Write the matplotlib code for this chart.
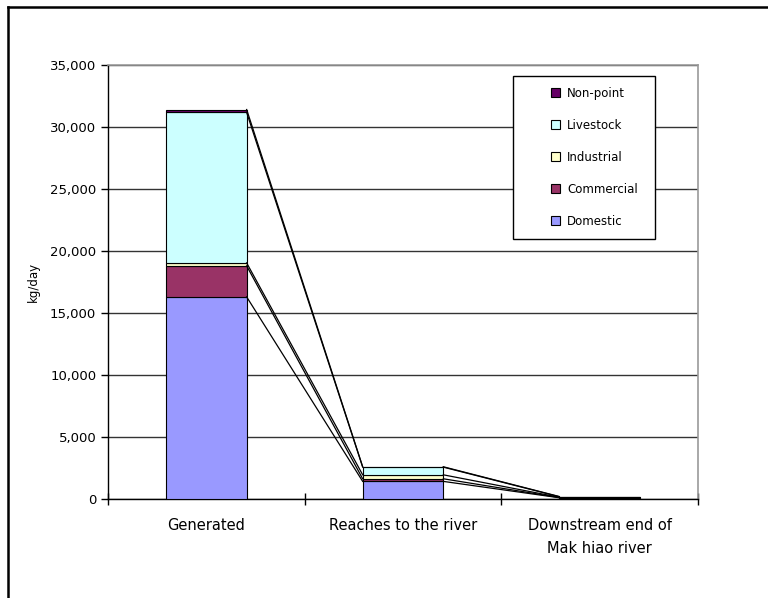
import matplotlib
matplotlib.use("Agg")
import matplotlib.pyplot as plt
from matplotlib.lines import Line2D
from matplotlib.patches import Patch, Rectangle
from matplotlib.ticker import FuncFormatter, MultipleLocator
import numpy as np

# Pollution load (kg/day) by source at each stage
stages = ["Generated", "Reaches to the river", "Downstream end of\nMak hiao river"]
sources = ["Domestic", "Commercial", "Industrial", "Livestock", "Non-point"]
domestic = [16300, 1420, 100]
commercial = [2500, 210, 20]
industrial = [240, 320, 20]
livestock = [12130, 620, 40]
nonpoint = [240, 30, 20]
colors = ["#9999FF", "#993366", "#FFFFCC", "#CCFFFF", "#660066"]

series = [domestic, commercial, industrial, livestock, nonpoint]

W, H = 768, 598
fig = plt.figure(figsize=(W / 100, H / 100), dpi=100)
ax = fig.add_axes([108 / W, 1 - 499 / H, 590 / W, 434 / H])

x = np.arange(len(stages))
width = 0.41
bottom = np.zeros(len(stages))
tops = []
for vals, col, name in zip(series, colors, sources):
    vals = np.asarray(vals, dtype=float)
    ax.bar(x, vals, width, bottom=bottom, color=col, edgecolor="black",
           linewidth=0.8, label=name, zorder=3)
    bottom = bottom + vals
    tops.append(bottom.copy())

# series lines joining the top of each segment between neighbouring bars
for top in tops:
    for j in range(len(stages) - 1):
        ax.plot([x[j] + width / 2, x[j + 1] - width / 2], [top[j], top[j + 1]],
                color="black", linewidth=0.9, zorder=4)

ax.set_xlim(-0.5, len(stages) - 0.5)
ax.set_ylim(0, 35000)
ax.yaxis.set_major_locator(MultipleLocator(5000))
ax.yaxis.set_major_formatter(FuncFormatter(lambda v, p: f"{int(v):,}"))
ax.grid(axis="y", color="#333333", linewidth=1.0, zorder=0)
ax.set_axisbelow(True)

ax.set_xticks(x)
ax.set_xticklabels(stages, fontsize=10.5, linespacing=1.6)
ax.tick_params(axis="x", length=0, pad=14)
# category boundary ticks
ax.set_xticks(np.arange(-0.5, len(stages), 1.0), minor=True)
ax.tick_params(axis="x", which="minor", direction="inout", length=9, width=1, color="black")
ax.tick_params(axis="y", direction="out", length=5, width=1, labelsize=9.5, color="black")

for s in ["left", "bottom"]:
    ax.spines[s].set_color("black")
    ax.spines[s].set_linewidth(1.0)
for s in ["top", "right"]:
    ax.spines[s].set_color("#999999")
    ax.spines[s].set_linewidth(1.2)

ax.set_ylabel("kg/day", fontsize=8.5, labelpad=7)

# legend entries (reversed order), with a separate rectangular frame
handles = [Patch(facecolor=c, edgecolor="black", linewidth=0.8, label=n)
           for c, n in zip(colors, sources)][::-1]
leg = fig.legend(handles=handles, loc="upper left",
                 bbox_to_anchor=(551 / W, 1 - 87 / H),
                 fontsize=8.5, frameon=False,
                 handlelength=0.8, handleheight=0.8, handletextpad=0.55,
                 labelspacing=1.6, borderpad=0, borderaxespad=0)
leg.set_zorder(11)
fig.add_artist(Rectangle((513 / W, 1 - 239 / H), (655 - 513) / W, (239 - 76) / H,
                         transform=fig.transFigure, facecolor="white",
                         edgecolor="black", linewidth=1.0, zorder=10))

# outer chart frame
fig.add_artist(Line2D([8 / W, 8 / W], [0, 1 - 7 / H], color="black", linewidth=1.8,
                      transform=fig.transFigure))
fig.add_artist(Line2D([8 / W, 1], [1 - 7 / H, 1 - 7 / H], color="black", linewidth=1.8,
                      transform=fig.transFigure))

fig.savefig("out.png", dpi=100)
